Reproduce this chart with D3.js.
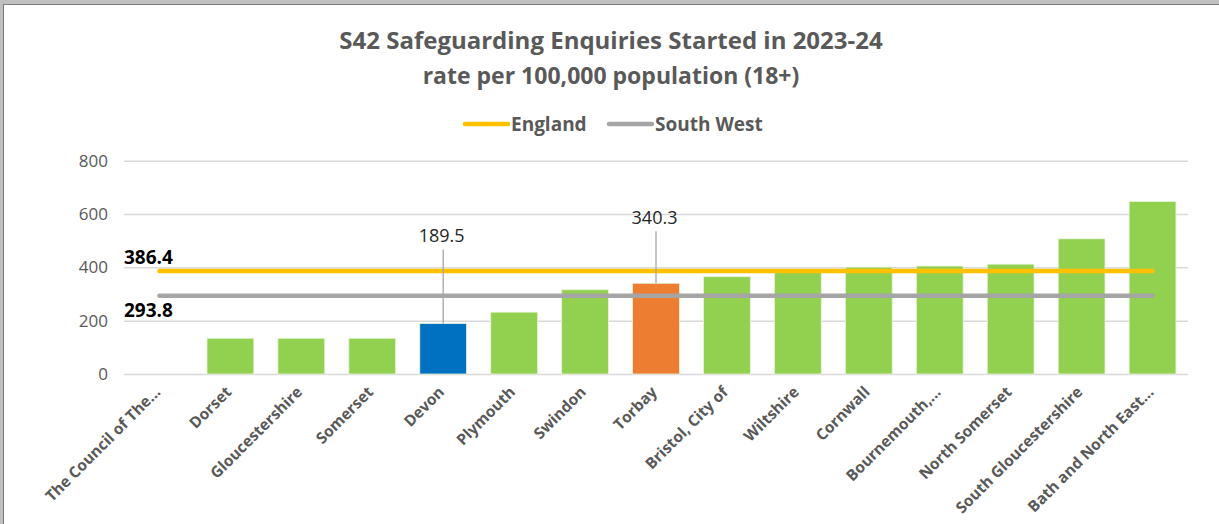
<!DOCTYPE html>
<html>
<head>
<meta charset="utf-8">
<script src="https://cdn.jsdelivr.net/npm/d3@7"></script>
<style>
  html, body { margin: 0; padding: 0; background: #fff; }
  svg { display: block; font-family: "Open Sans", "Noto Sans", sans-serif; }
</style>
</head>
<body>
<div id="chart"></div>
<script>
// Data
var areas = ["The Council of The...", "Dorset", "Gloucestershire", "Somerset", "Devon",
	"Plymouth", "Swindon", "Torbay", "Bristol, City of", "Wiltshire", "Cornwall",
	"Bournemouth,...", "North Somerset", "South Gloucestershire", "Bath and North East..."];
var rates = [0, 134, 134, 134, 189.5, 232, 316, 340.3, 365, 388, 401, 405, 412, 507, 647];
var highlighted = { "Devon": "#0070c0", "Torbay": "#ed7d31" };
var englandRate = 386.4;
var southWestRate = 293.8;
var yTicks = [0, 200, 400, 600, 800];
var titleLines = ["S42 Safeguarding Enquiries Started in 2023-24", "rate per 100,000 population (18+)"];

var width = 1219, height = 524;
var margin = {top: 160.7, right: 31, bottom: 150, left: 124};

var svg = d3.select("#chart")
	.append("svg")
	.attr("width", width)
	.attr("height", height);

// window frame (grey bands top and left)
svg.append("rect").attr("x", 0).attr("y", 0).attr("width", width).attr("height", 4).attr("fill", "#c0c0c0");
svg.append("rect").attr("x", 0).attr("y", 0).attr("width", 3).attr("height", height).attr("fill", "#c0c0c0");
svg.append("line").attr("x1", 3).attr("x2", width).attr("y1", 4.5).attr("y2", 4.5).attr("stroke", "#7a7a7a");
svg.append("line").attr("x1", 3.5).attr("x2", 3.5).attr("y1", 4).attr("y2", height).attr("stroke", "#7a7a7a");

// title
svg.append("g").selectAll("text")
	.data(titleLines)
	.enter()
	.append("text")
	.attr("x", 611)
	.attr("y", function(d, i) { return 49 + i * 35; })
	.attr("text-anchor", "middle")
	.attr("font-size", function(d, i) { return i == 0 ? 24 : 23; })
	.attr("font-weight", "bold")
	.attr("fill", "#595959")
	.text(function(d) { return d; });

// scales
var x = d3.scaleBand()
	.domain(areas)
	.range([margin.left, width - margin.right])
	.paddingInner(0.34)
	.paddingOuter(0.17);

var y = d3.scaleLinear()
	.domain([0, 800])
	.range([374, margin.top]);

var cx = function(d) { return x(d) + x.bandwidth() / 2; };

// gridlines + y labels
var yAxis = svg.append("g")
	.attr("transform", "translate(" + margin.left + ",0)")
	.call(d3.axisLeft(y).tickValues(yTicks).tickSize(-(width - margin.right - margin.left)).tickPadding(16));
yAxis.select(".domain").remove();
yAxis.selectAll(".tick line").attr("stroke", "#d9d9d9").attr("stroke-width", 1.5);
yAxis.selectAll(".tick text")
	.attr("fill", "#595959")
	.attr("font-size", 17)
	.attr("font-family", "\"Open Sans\", sans-serif");

// bars
svg.append("g").selectAll("rect")
	.data(areas)
	.enter()
	.append("rect")
	.attr("x", function(d) { return x(d); })
	.attr("y", function(d, i) { return y(rates[i]); })
	.attr("width", x.bandwidth())
	.attr("height", function(d, i) { return y(0) - y(rates[i]); })
	.attr("fill", function(d) { return highlighted[d] || "#92d050"; })
	.attr("stroke", "#e8f5dc")
	.attr("stroke-width", function(d, i) { return rates[i] > 0 ? 0.8 : 0; });

// x labels, rotated
svg.append("g").selectAll("text")
	.data(areas)
	.enter()
	.append("text")
	.attr("transform", function(d) { return "translate(" + (cx(d) + 2) + "," + 393 + ") rotate(-45)"; })
	.attr("text-anchor", "end")
	.attr("font-size", 15.5)
	.attr("font-weight", "bold")
	.attr("fill", "#595959")
	.text(function(d) { return d; });

// benchmark lines (England, South West)
var benchmarks = [
	{name: "England", value: englandRate, color: "#ffc000", labelDy: -7},
	{name: "South West", value: southWestRate, color: "#a5a5a5", labelDy: 21}
];
var line = d3.line()
	.x(function(d) { return cx(d.area); })
	.y(function(d) { return y(d.value); });

benchmarks.forEach(function(b) {
	svg.append("path")
		.datum(areas.map(function(a) { return {area: a, value: b.value}; }))
		.attr("d", line)
		.attr("fill", "none")
		.attr("stroke", b.color)
		.attr("stroke-width", 4.5)
		.attr("stroke-linecap", "round");
	svg.append("text")
		.attr("x", margin.left)
		.attr("y", y(b.value) + b.labelDy)
		.attr("font-size", 19)
		.attr("font-weight", "bold")
		.attr("fill", "#000")
		.text(b.value.toFixed(1));
});

// callout labels on highlighted bars
var callouts = [
	{area: "Devon", rise: 87},
	{area: "Torbay", rise: 65}
];
callouts.forEach(function(c) {
	var v = rates[areas.indexOf(c.area)];
	svg.append("line")
		.attr("x1", cx(c.area)).attr("x2", cx(c.area))
		.attr("y1", y(v) - c.rise + 13).attr("y2", y(v))
		.attr("stroke", "#a6a6a6").attr("stroke-width", 1.3);
	svg.append("text")
		.attr("x", cx(c.area) - 1.5)
		.attr("y", y(v) - c.rise + 6)
		.attr("text-anchor", "middle")
		.attr("font-size", 18)
		.attr("fill", "#262626")
		.text(v.toFixed(1));
});

// legend
var legend = svg.append("g").attr("transform", "translate(465,124)");
var legendItems = legend.selectAll("g")
	.data(benchmarks)
	.enter()
	.append("g")
	.attr("transform", function(d, i) { return "translate(" + (i * 144) + ",0)"; });
legendItems.append("line")
	.attr("x1", 0).attr("x2", 43)
	.attr("stroke", function(d) { return d.color; })
	.attr("stroke-width", 4.5)
	.attr("stroke-linecap", "round");
legendItems.append("text")
	.attr("x", 46)
	.attr("y", 7)
	.attr("font-size", 19)
	.attr("font-weight", "bold")
	.attr("fill", "#595959")
	.text(function(d) { return d.name; });
</script>
</body>
</html>
